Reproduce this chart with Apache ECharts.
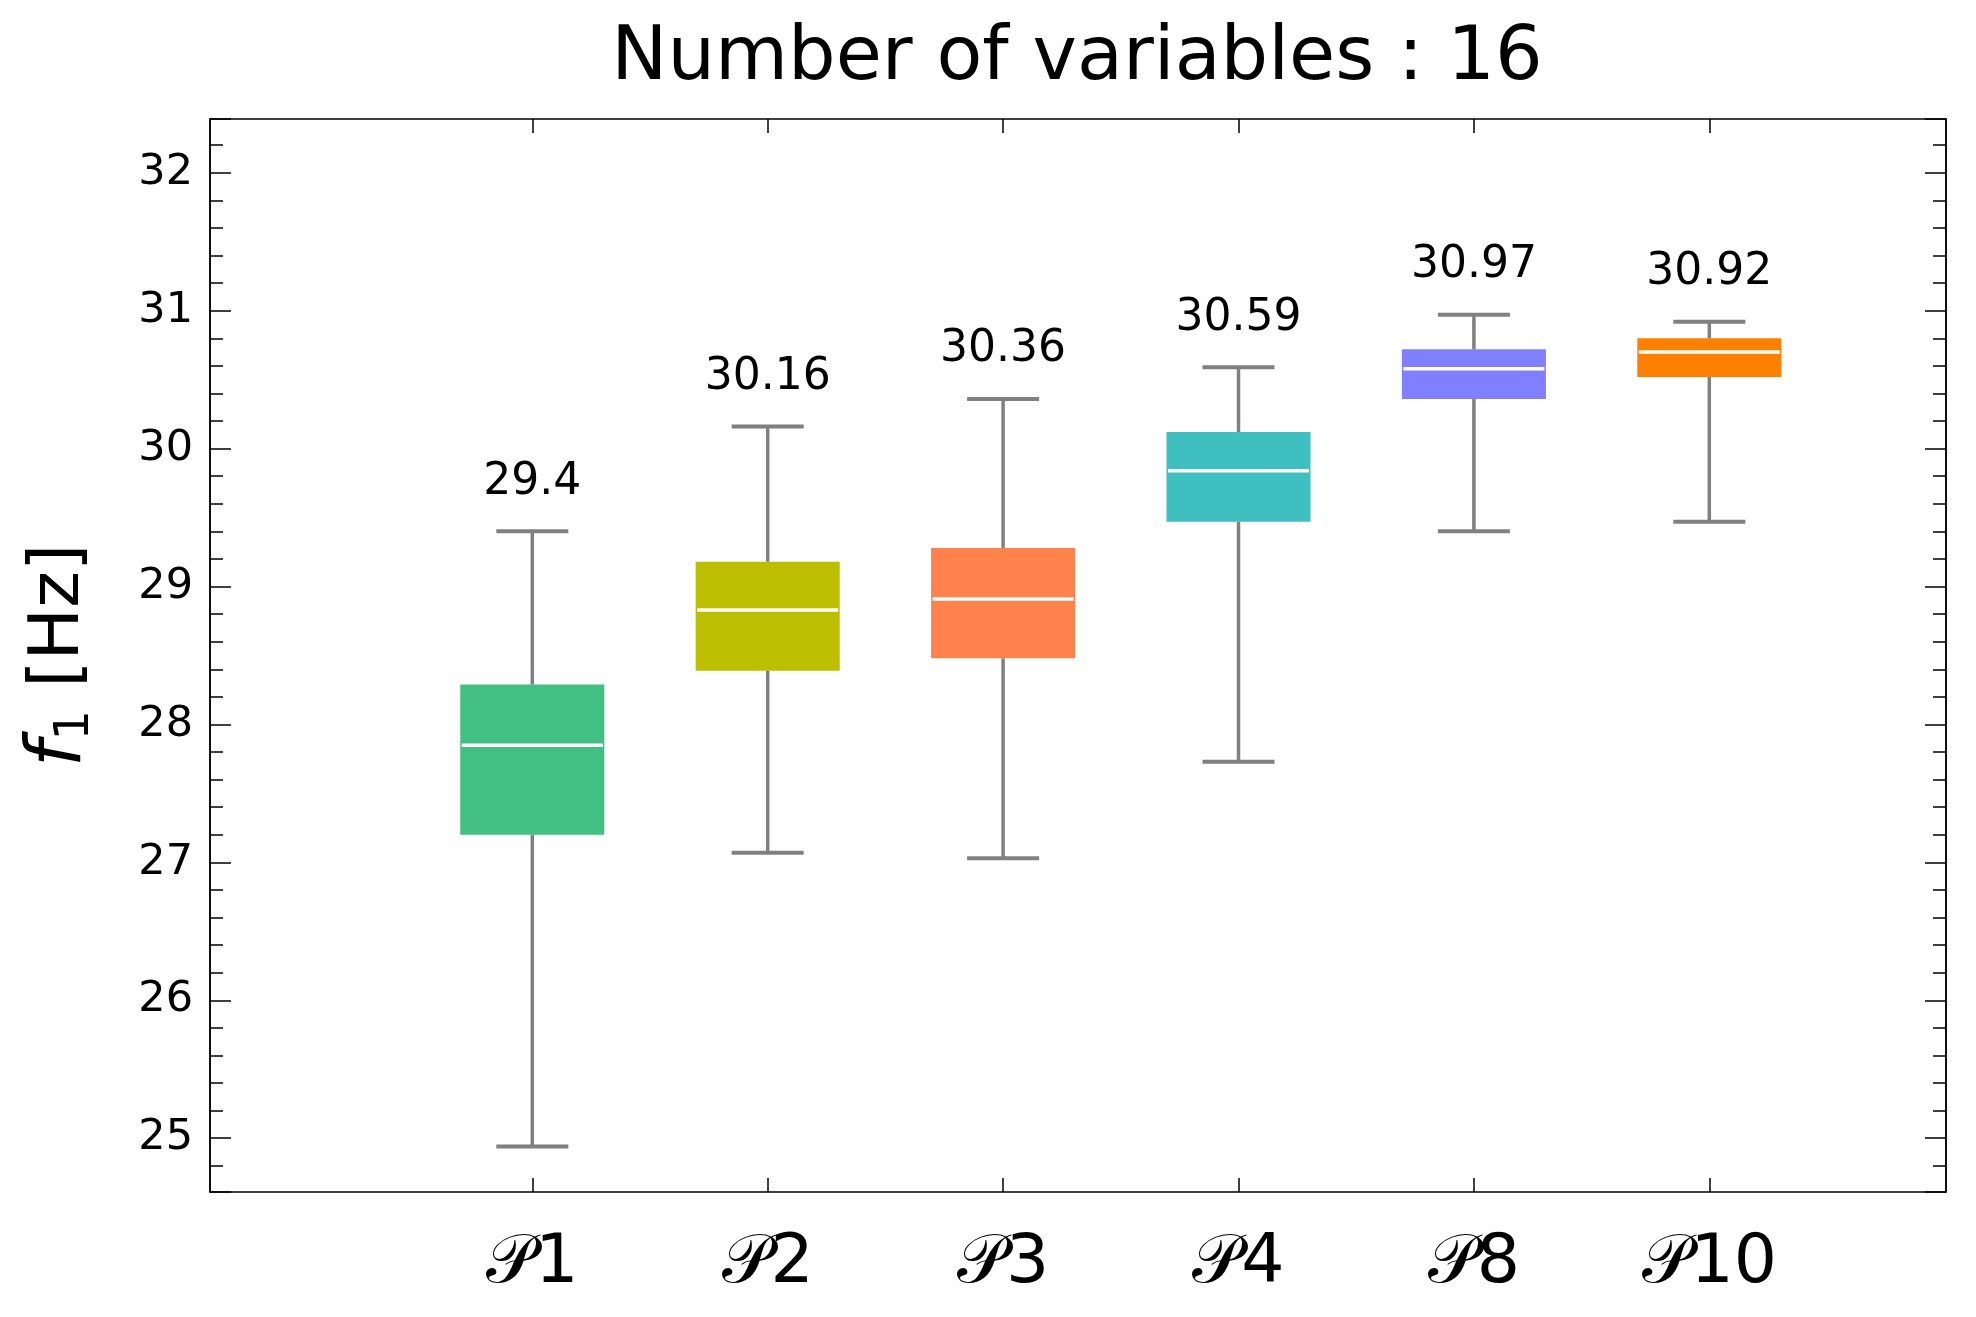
<!DOCTYPE html>
<html><head><meta charset="utf-8">
<script src="https://cdn.jsdelivr.net/npm/echarts@6/dist/echarts.min.js"></script>
<style>html,body{margin:0;padding:0;background:#fff}#c{width:1976px;height:1317px}</style>
</head><body><div id="c"></div>
<script>
const titleText = 'Number of variables : 16';
const categories = ['𝒫1', '𝒫2', '𝒫3', '𝒫4', '𝒫8', '𝒫10'];
const whiskerLow = [24.94, 27.07, 27.03, 27.73, 29.40, 29.47];
const q1 = [27.20, 28.39, 28.48, 29.47, 30.36, 30.52];
const medians = [27.85, 28.83, 28.91, 29.84, 30.58, 30.70];
const q3 = [28.29, 29.18, 29.28, 30.12, 30.72, 30.80];
const whiskerHigh = [29.4, 30.16, 30.36, 30.59, 30.97, 30.92];
const maxLabels = ['29.4', '30.16', '30.36', '30.59', '30.97', '30.92'];
const boxColors = ['#42BF82', '#BCBF00', '#FF824C', '#40BFC0', '#8080FF', '#FF7F00'];
const yMin = 24.61, yMax = 32.39;

const FONT = 'DejaVu Sans';
const data = categories.map((c, i) => [c, whiskerLow[i], q1[i], medians[i], q3[i], whiskerHigh[i]]);

function renderItem(params, api) {
  const i = params.dataIndex;
  const x = api.value(0);
  const band = api.size([1, 0])[0];
  const bw = band * 0.612, cw = bw / 2;
  const pLo = api.coord([x, api.value(1)]);
  const pQ1 = api.coord([x, api.value(2)]);
  const pMed = api.coord([x, api.value(3)]);
  const pQ3 = api.coord([x, api.value(4)]);
  const pHi = api.coord([x, api.value(5)]);
  const cx = pLo[0];
  const gray = '#808080';
  const lw = 3.5;
  return {
    type: 'group',
    children: [
      { type: 'rect', shape: { x: cx - bw / 2, y: pQ3[1], width: bw, height: pQ1[1] - pQ3[1] }, style: { fill: boxColors[i] } },
      { type: 'line', shape: { x1: cx, y1: pQ1[1], x2: cx, y2: pLo[1] }, style: { stroke: gray, lineWidth: lw } },
      { type: 'line', shape: { x1: cx, y1: pQ3[1], x2: cx, y2: pHi[1] }, style: { stroke: gray, lineWidth: lw } },
      { type: 'line', shape: { x1: cx - cw / 2, y1: pLo[1], x2: cx + cw / 2, y2: pLo[1] }, style: { stroke: gray, lineWidth: 4 } },
      { type: 'line', shape: { x1: cx - cw / 2, y1: pHi[1], x2: cx + cw / 2, y2: pHi[1] }, style: { stroke: gray, lineWidth: 4 } },
      { type: 'line', shape: { x1: cx - bw / 2 + 1.5, y1: pMed[1], x2: cx + bw / 2 - 1.5, y2: pMed[1] }, style: { stroke: '#ffffff', lineWidth: 3.5 } },
      { type: 'text', x: cx, y: pHi[1] - 49, style: { text: maxLabels[i], fontSize: 44, fontFamily: FONT, fill: '#000', align: 'center', verticalAlign: 'middle' } }
    ]
  };
}

const chart = echarts.init(document.getElementById('c'), null, { renderer: 'canvas' });
const intLabel = v => (Math.abs(v - Math.round(v)) < 1e-6 ? String(Math.round(v)) : '');
const tickStyle = { color: '#000', width: 1.5 };
chart.setOption({
  backgroundColor: '#fff',
  animation: false,
  title: {
    text: titleText, left: 1072, top: 17, textAlign: 'center',
    textStyle: { fontSize: 75, fontWeight: 'normal', fontFamily: FONT, color: '#000' }
  },
  grid: [
    { left: 210, right: 30, top: 119, bottom: 125, show: true, borderColor: '#000', borderWidth: 1.5, backgroundColor: 'transparent' },
    { left: 414.6, right: 149, top: 119, bottom: 125 }
  ],
  xAxis: [
    { gridIndex: 0, type: 'value', show: false, min: 0, max: 1 },
    {
      gridIndex: 1, type: 'category', data: categories, position: 'bottom', boundaryGap: true,
      axisLine: { show: false },
      axisTick: { show: true, inside: true, alignWithLabel: true, length: 14, lineStyle: tickStyle },
      axisLabel: { fontSize: 68, fontFamily: FONT, color: '#000', margin: 38 },
      splitLine: { show: false }
    },
    {
      gridIndex: 1, type: 'category', data: categories, position: 'top', boundaryGap: true,
      axisLine: { show: false },
      axisTick: { show: true, inside: true, alignWithLabel: true, length: 14, lineStyle: tickStyle },
      axisLabel: { show: false },
      splitLine: { show: false }
    }
  ],
  yAxis: [
    {
      gridIndex: 0, type: 'value', position: 'left', min: yMin, max: yMax, minInterval: 1, maxInterval: 1, splitNumber: 8,
      axisLine: { show: true, lineStyle: tickStyle },
      axisTick: { show: true, inside: true, length: 21, lineStyle: tickStyle },
      minorTick: { show: true, splitNumber: 5, length: 13, lineStyle: tickStyle },
      axisLabel: { fontSize: 43, fontFamily: FONT, color: '#000', margin: 17, formatter: intLabel, showMinLabel: false, showMaxLabel: false },
      splitLine: { show: false },
      name: '{f|f}{s|1}{n| [Hz]}', nameLocation: 'middle', nameRotate: 90, nameGap: 110,
      nameTextStyle: {
        fontFamily: FONT, color: '#000',
        rich: {
          f: { fontSize: 76, fontStyle: 'italic', fontFamily: FONT, color: '#000', lineHeight: 80 },
          s: { fontSize: 48, fontFamily: FONT, color: '#000', lineHeight: 48, verticalAlign: 'bottom' },
          n: { fontSize: 70, fontFamily: FONT, color: '#000', lineHeight: 80 }
        }
      }
    },
    {
      gridIndex: 0, type: 'value', position: 'right', min: yMin, max: yMax, minInterval: 1, maxInterval: 1, splitNumber: 8,
      axisLine: { show: true, lineStyle: tickStyle },
      axisTick: { show: true, inside: true, length: 21, lineStyle: tickStyle },
      minorTick: { show: true, splitNumber: 5, length: 13, lineStyle: tickStyle },
      axisLabel: { show: false },
      splitLine: { show: false }
    },
    { gridIndex: 1, type: 'value', min: yMin, max: yMax, show: false, splitLine: { show: false } }
  ],
  series: [{
    type: 'custom', xAxisIndex: 1, yAxisIndex: 2,
    renderItem: renderItem,
    encode: { x: 0, y: [1, 2, 3, 4, 5] },
    data: data
  }]
});
</script></body></html>
